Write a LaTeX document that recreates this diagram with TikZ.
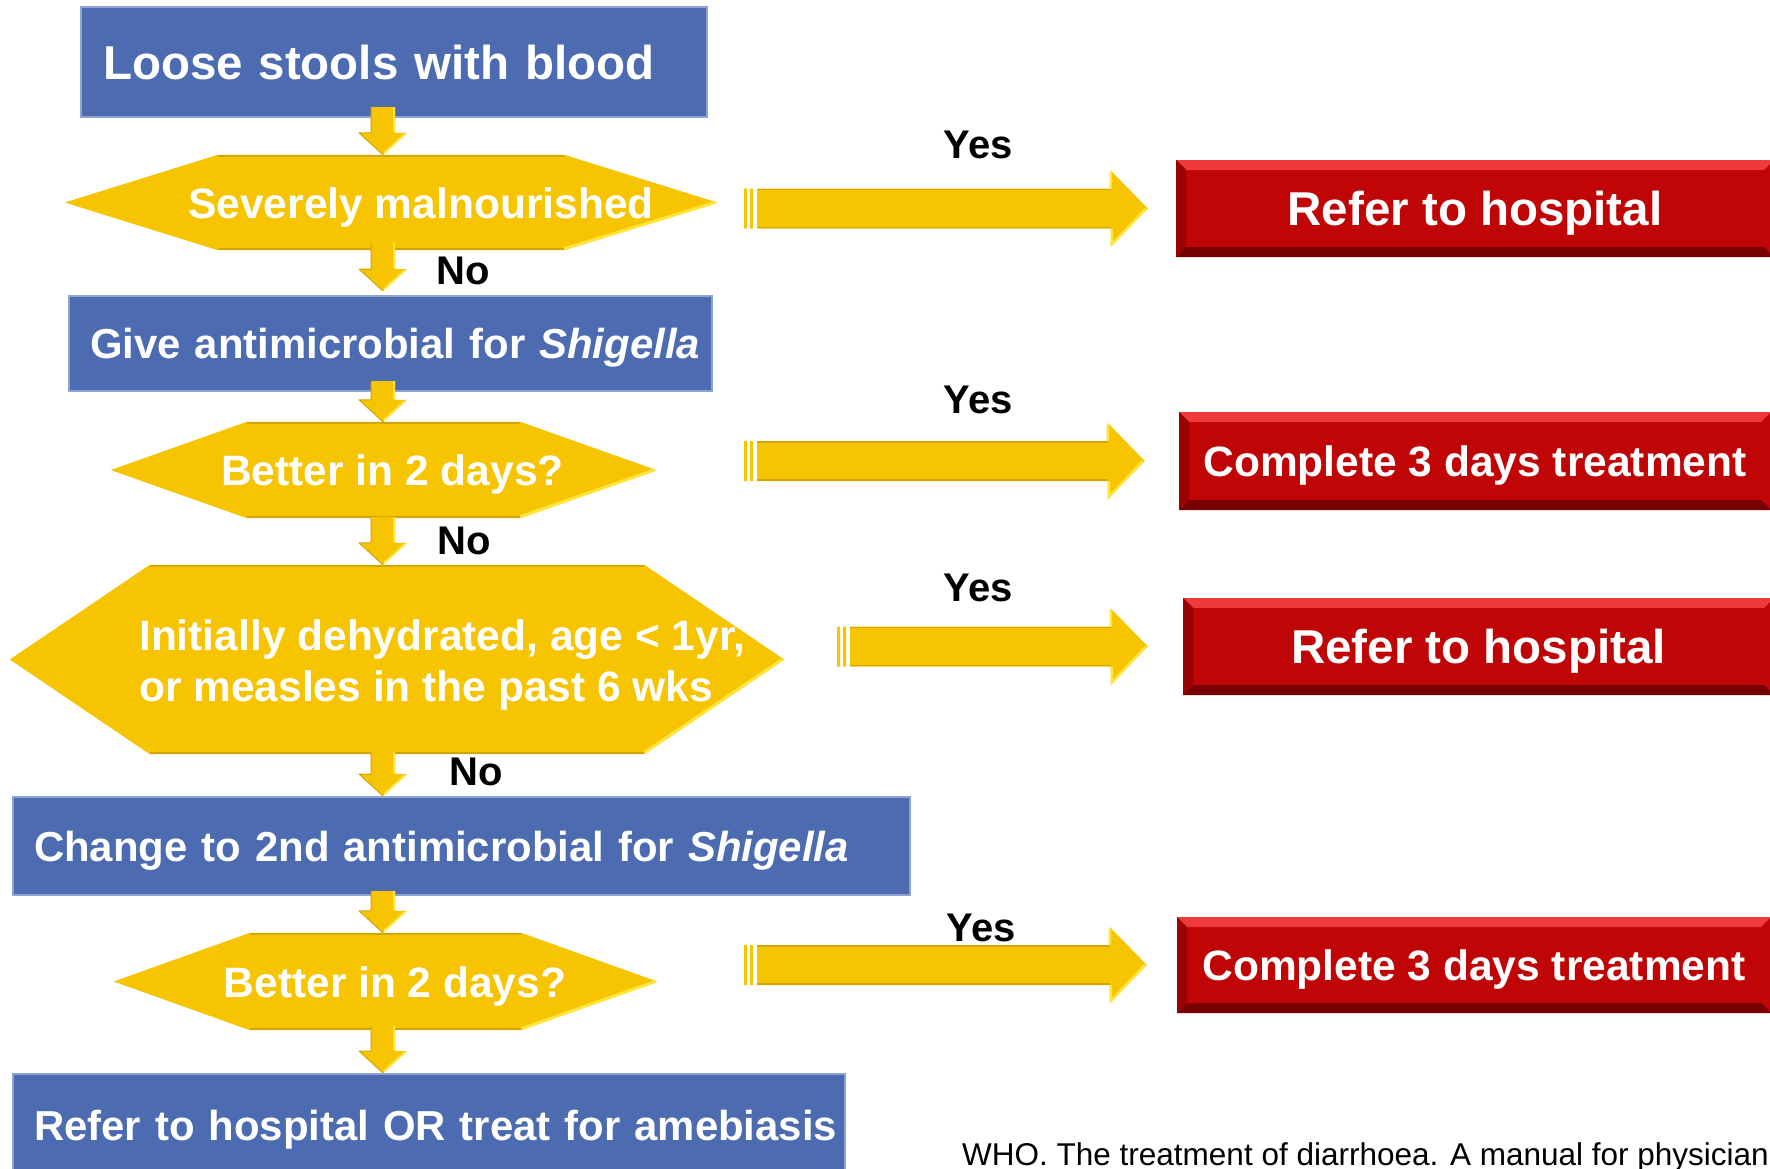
\documentclass[tikz,border=0pt]{standalone}
\usepackage{fontspec}
\setmainfont{Liberation Sans}
\usetikzlibrary{calc}
\definecolor{boxblue}{HTML}{4C6BB0}
\definecolor{blueedge}{HTML}{8FA3D3}
\definecolor{gold}{HTML}{F6C400}
\definecolor{golddark}{HTML}{D2A600}
\definecolor{goldlight}{HTML}{FFE43C}
\definecolor{boxred}{HTML}{BF0505}
\definecolor{redlight}{HTML}{EE3A3A}
\definecolor{redmid}{HTML}{9A0202}
\definecolor{reddark}{HTML}{780000}

\newcommand{\downblock}[2]{%
 \fill[gold] let \p1=(#1), \p2=(#2) in (\x1-12pt,\y1) -- (\x1+12pt,\y1) -- (\x1+12pt,\y2+22pt) -- (\x1+24pt,\y2+22pt) -- (\x1,\y2) -- (\x1-24pt,\y2+22pt) -- (\x1-12pt,\y2+22pt) -- cycle;
 \draw[golddark, line width=1pt, line join=round] let \p1=(#1), \p2=(#2) in (\x1-12pt,\y1) -- (\x1-12pt,\y2+22pt) -- (\x1-24pt,\y2+22pt) -- (\x1,\y2);
 \draw[goldlight, line width=2pt] let \p1=(#1), \p2=(#2) in (\x1+11pt,\y1) -- (\x1+11pt,\y2+23pt) (\x1+22pt,\y2+21pt) -- (\x1+1pt,\y2+2pt);
}
\newcommand{\rightblock}[2]{%
 \fill[gold] let \p1=(#1), \p2=(#2) in
   (\x1+13pt,\y2+20pt) -- (\x2-37pt,\y2+20pt) -- (\x2-37pt,\y2+38pt) -- (\x2,\y2) -- (\x2-37pt,\y2-38pt) -- (\x2-37pt,\y2-20pt) -- (\x1+13pt,\y2-20pt) -- cycle
   (\x1,\y2-20pt) rectangle (\x1+3pt,\y2+20pt)
   (\x1+6pt,\y2-20pt) rectangle (\x1+9pt,\y2+20pt);
 \draw[golddark, line width=1.5pt] let \p1=(#1), \p2=(#2) in (\x1+13pt,\y2+19pt) -- (\x2-37pt,\y2+19pt) (\x1+13pt,\y2-19pt) -- (\x2-37pt,\y2-19pt);
 \draw[goldlight, line width=2.5pt] let \p1=(#1), \p2=(#2) in (\x2-2pt,\y2) -- (\x2-36pt,\y2-36pt) -- (\x2-36pt,\y2-20pt) (\x2-37pt,\y2+37pt) -- (\x2-37pt,\y2+20pt);
}
\newcommand{\hexfill}[2]{%
 \fill[gold] (#1.west) -- ([xshift=#2]#1.north west) -- ([xshift=-#2]#1.north east) -- (#1.east) -- ([xshift=-#2]#1.south east) -- ([xshift=#2]#1.south west) -- cycle;
 \draw[golddark, line width=2pt] ([xshift=#2,yshift=-1pt]#1.north west) -- ([xshift=-#2,yshift=-1pt]#1.north east) ([xshift=#2,yshift=1pt]#1.south west) -- ([xshift=-#2,yshift=1pt]#1.south east);
 \draw[goldlight, line width=3pt] ([xshift=-2pt]#1.east) -- ([xshift=-#2,yshift=1.5pt]#1.south east);
}

\begin{document}
\begin{tikzpicture}[x=1pt,y=-1pt,
  bluebox/.style={rectangle, fill=boxblue, draw=blueedge, line width=2pt, text=white,
    inner xsep=0pt, inner ysep=0pt, align=left, text depth=0pt,
    font=\bfseries\fontsize{41.9}{51}\selectfont, text height=30pt},
  padleft/.style={execute at begin node={\hspace*{#1}}},
  redbox/.style={rectangle, fill=boxred, text=white, inner sep=0pt, align=center,
    text height=30.4pt, text depth=0pt,
    font=\bfseries\fontsize{42.5}{51}\selectfont,
    path picture={
      \fill[redlight] (path picture bounding box.north west) -- (path picture bounding box.north east) -- ([shift={(-10pt,-10pt)}]path picture bounding box.north east) -- ([shift={(10pt,-10pt)}]path picture bounding box.north west) -- cycle;
      \fill[reddark] (path picture bounding box.south west) -- (path picture bounding box.south east) -- ([shift={(-10pt,10pt)}]path picture bounding box.south east) -- ([shift={(10pt,10pt)}]path picture bounding box.south west) -- cycle;
      \fill[redmid] (path picture bounding box.north west) -- ([shift={(10pt,-10pt)}]path picture bounding box.north west) -- ([shift={(10pt,10pt)}]path picture bounding box.south west) -- (path picture bounding box.south west) -- cycle;
    }},
  hexnode/.style={rectangle, inner sep=0pt},
  hextext/.style={text=white, inner sep=0pt, text height=30.4pt, text depth=0pt, font=\bfseries\fontsize{42.5}{51}\selectfont},
  hextwo/.style={text=white, inner sep=0pt, align=left, font=\bfseries\fontsize{42.5}{51}\selectfont},
  answer/.style={text=black, inner sep=0pt, font=\bfseries\fontsize{40}{48}\selectfont},
  bigtext/.style={font=\bfseries\fontsize{47.5}{57}\selectfont, text height=34pt}
]
\useasboundingbox (0,0) rectangle (1770,1168);
\clip (0,0) rectangle (1770,1168);
\fill[white] (0,0) rectangle (1770,1168);
\coordinate (axis) at (383,0);

% blue boxes
\node[bluebox, bigtext, minimum width=626pt, minimum height=110pt, text width=626pt, padleft=22pt] (b1) at (394,62) {\mbox{Loose stools with blood}};
\node[bluebox, minimum width=643pt, minimum height=95pt, text width=643pt, padleft=21pt] (b2) at (390.5,343.5) {\mbox{Give antimicrobial for \textit{Shigella}}};
\node[bluebox, minimum width=897pt, minimum height=98pt, text width=897pt, padleft=21pt] (b3) at (461.5,846) {\mbox{Change to 2nd antimicrobial for \textit{Shigella}}};
\node[bluebox, minimum width=832pt, minimum height=102pt, text width=832pt, padleft=21pt] (b4) at (429,1125) {\mbox{Refer to hospital OR treat for amebiasis}};

% hexagons
\node[hexnode, minimum width=652pt, minimum height=95pt] (h1) at (391,202.5) {};
\hexfill{h1}{153pt}
\node[hextext] (h1t) at (421,203) {Severely malnourished};
\node[hexnode, minimum width=545pt, minimum height=96pt] (h2) at (383.5,470) {};
\hexfill{h2}{136pt}
\node[hextext] (h2t) at (392.5,470) {Better in 2 days?};
\node[hexnode, minimum width=774pt, minimum height=189pt] (h3) at (397,659.5) {};
\hexfill{h3}{140pt}
\node[hextwo, anchor=west] (h3t) at (139,665) {Initially dehydrated, age < 1yr,\\or measles in the past 6 wks};
\node[hexnode, minimum width=543pt, minimum height=97pt] (h4) at (385.5,981.5) {};
\hexfill{h4}{136pt}
\node[hextext] (h4t) at (395,982) {Better in 2 days?};

% red boxes
\node[redbox, bigtext, minimum width=598pt, minimum height=97pt] (r1) at (1475,208.5) {Refer to hospital};
\node[redbox, minimum width=592pt, minimum height=98pt] (r2) at (1475,461) {Complete 3 days treatment};
\node[redbox, bigtext, minimum width=591pt, minimum height=97pt] (r3) at (1478.5,646.5) {Refer to hospital};
\node[redbox, minimum width=594pt, minimum height=96pt] (r4) at (1474,965) {Complete 3 days treatment};

% down arrows
\downblock{$(b1.south -| axis)+(0,-11)$}{h1.north}
\downblock{$(h1.south -| axis)+(0,-8)$}{$(b2.north)+(0,-4)$}
\downblock{$(b2.south -| axis)+(0,-11)$}{h2.north}
\downblock{$(h2.south -| axis)+(0,-1)$}{h3.north}
\downblock{$(h3.south -| axis)+(0,-2)$}{b3.north}
\downblock{$(b3.south -| axis)+(0,-5)$}{h4.north}
\downblock{$(h4.south -| axis)+(0,-4)$}{b4.north}

% yes arrows
\rightblock{$(h1.east)+(27,0)$}{$(r1.west)+(-28,0)$}
\rightblock{$(h2.east)+(88,0)$}{$(r2.west)+(-34,0)$}
\rightblock{$(h3.east)+(53,0)$}{$(r3.west)+(-35,0)$}
\rightblock{$(h4.east)+(87,0)$}{$(r4.west)+(-30,0)$}

% labels
\node[answer] (y1) at (978,145) {Yes};
\node[answer] (y2) at (978,400) {Yes};
\node[answer] (y3) at (978,588) {Yes};
\node[answer] (y4) at (981,928) {Yes};
\node[answer] (n1) at (463,271) {No};
\node[answer] (n2) at (464.5,541) {No};
\node[answer] (n3) at (476,772) {No};

% footer
\node[anchor=base west, inner sep=0pt, font=\fontsize{31.5}{38}\selectfont] (src) at (962,1165) {WHO. The treatment of diarrhoea. A manual for physician};
\end{tikzpicture}
\end{document}
